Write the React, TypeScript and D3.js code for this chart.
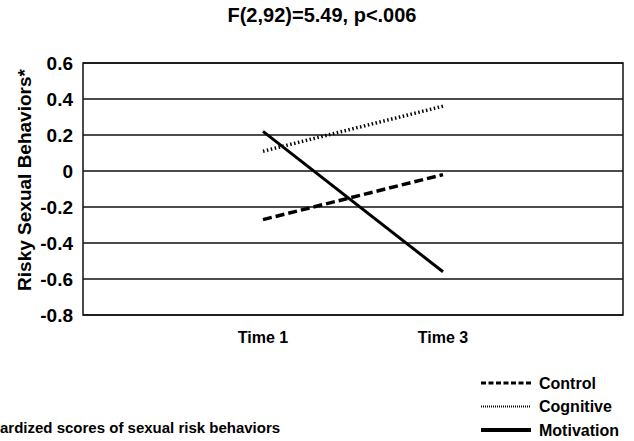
import React, { useEffect, useRef } from 'react';
import * as d3 from 'd3';

const times = ['Time 1', 'Time 3'];
const control = [-0.27, -0.02];
const cognitive = [0.11, 0.36];
const motivation = [0.22, -0.56];
const yTicks = [0.6, 0.4, 0.2, 0, -0.2, -0.4, -0.6, -0.8];

const seriesList = [
    { name: 'Control', values: control, dash: '9,4', width: 3.5, legendDash: '5,2.5', legendWidth: 3 },
    { name: 'Cognitive', values: cognitive, dash: '1.5,2.5', width: 3.5, legendDash: '1,1', legendWidth: 2 },
    { name: 'Motivation', values: motivation, dash: null, width: 3, legendDash: null, legendWidth: 4 },
];

const App = () => {
    const svgRef = useRef<SVGSVGElement>(null);

    useEffect(() => {
        const svg = d3.select(svgRef.current);
        svg.selectAll('*').remove();

        const width = 634;
        const height = 441;
        const margin = { top: 63, right: 11, bottom: 126, left: 83 };
        const innerWidth = width - margin.left - margin.right;
        const innerHeight = height - margin.top - margin.bottom;
        const font = 'Arial, "Liberation Sans", Helvetica, sans-serif';

        // Category slots 1 and 2 out of 0..3
        const x = d3.scaleLinear().domain([0, times.length + 1]).range([0, innerWidth]);
        const y = d3.scaleLinear().domain([-0.8, 0.6]).range([innerHeight, 0]);

        const g = svg.append('g').attr('transform', `translate(${margin.left},${margin.top})`);

        // gridlines
        g.selectAll('line.grid')
            .data(yTicks)
            .enter().append('line')
            .attr('x1', 0).attr('x2', innerWidth)
            .attr('y1', d => y(d)).attr('y2', d => y(d))
            .attr('stroke', '#111').attr('stroke-width', 1.3);

        g.append('rect')
            .attr('width', innerWidth).attr('height', innerHeight)
            .attr('fill', 'none').attr('stroke', '#111').attr('stroke-width', 1.5);

        // y tick labels (plain hyphen, as in the original)
        g.selectAll('text.ytick')
            .data(yTicks)
            .enter().append('text')
            .attr('x', -10).attr('y', d => y(d))
            .attr('dy', '0.35em')
            .attr('text-anchor', 'end')
            .attr('font-family', font).attr('font-weight', 'bold').attr('font-size', 19)
            .text(d => (d === 0 ? '0' : d.toFixed(1)));

        // x labels
        g.selectAll('text.xtick')
            .data(times)
            .enter().append('text')
            .attr('x', (d, i) => x(i + 1))
            .attr('y', innerHeight + 28)
            .attr('text-anchor', 'middle')
            .attr('font-family', font).attr('font-weight', 'bold').attr('font-size', 16)
            .text(d => d);

        const line = d3.line<number>()
            .x((d, i) => x(i + 1))
            .y(d => y(d));

        seriesList.forEach(s => {
            g.append('path')
                .datum(s.values)
                .attr('d', line)
                .attr('fill', 'none')
                .attr('stroke', '#000')
                .attr('stroke-width', s.width)
                .attr('stroke-dasharray', s.dash);
        });

        // title
        svg.append('text')
            .attr('x', 322).attr('y', 22)
            .attr('text-anchor', 'middle')
            .attr('font-family', font).attr('font-weight', 'bold').attr('font-size', 20)
            .text('F(2,92)=5.49, p<.006');

        // y axis label
        svg.append('text')
            .attr('transform', 'rotate(-90)')
            .attr('x', -180)
            .attr('y', 31)
            .attr('text-anchor', 'middle')
            .attr('font-family', font).attr('font-weight', 'bold').attr('font-size', 19)
            .text('Risky Sexual Behaviors*');

        // legend
        const legend = svg.append('g').attr('transform', 'translate(481,383)');
        seriesList.forEach((s, i) => {
            const row = legend.append('g').attr('transform', `translate(0,${i * 23.5})`);
            row.append('line')
                .attr('x1', 0).attr('x2', 50)
                .attr('y1', 0).attr('y2', 0)
                .attr('stroke', '#000')
                .attr('stroke-width', s.legendWidth)
                .attr('stroke-dasharray', s.legendDash);
            row.append('text')
                .attr('x', 58).attr('y', 0).attr('dy', '0.35em')
                .attr('font-family', font).attr('font-weight', 'bold').attr('font-size', 16)
                .text(s.name);
        });

        // footnote (cut off at left edge in original)
        svg.append('text')
            .attr('x', 0).attr('y', 433)
            .attr('font-family', font).attr('font-weight', 'bold').attr('font-size', 15)
            .text('ardized scores of sexual risk behaviors');
    }, []);

    return (
        <svg ref={svgRef} width={634} height={441} style={{ position: 'absolute', left: 0, top: 0 }}></svg>
    );
};

export default App;
